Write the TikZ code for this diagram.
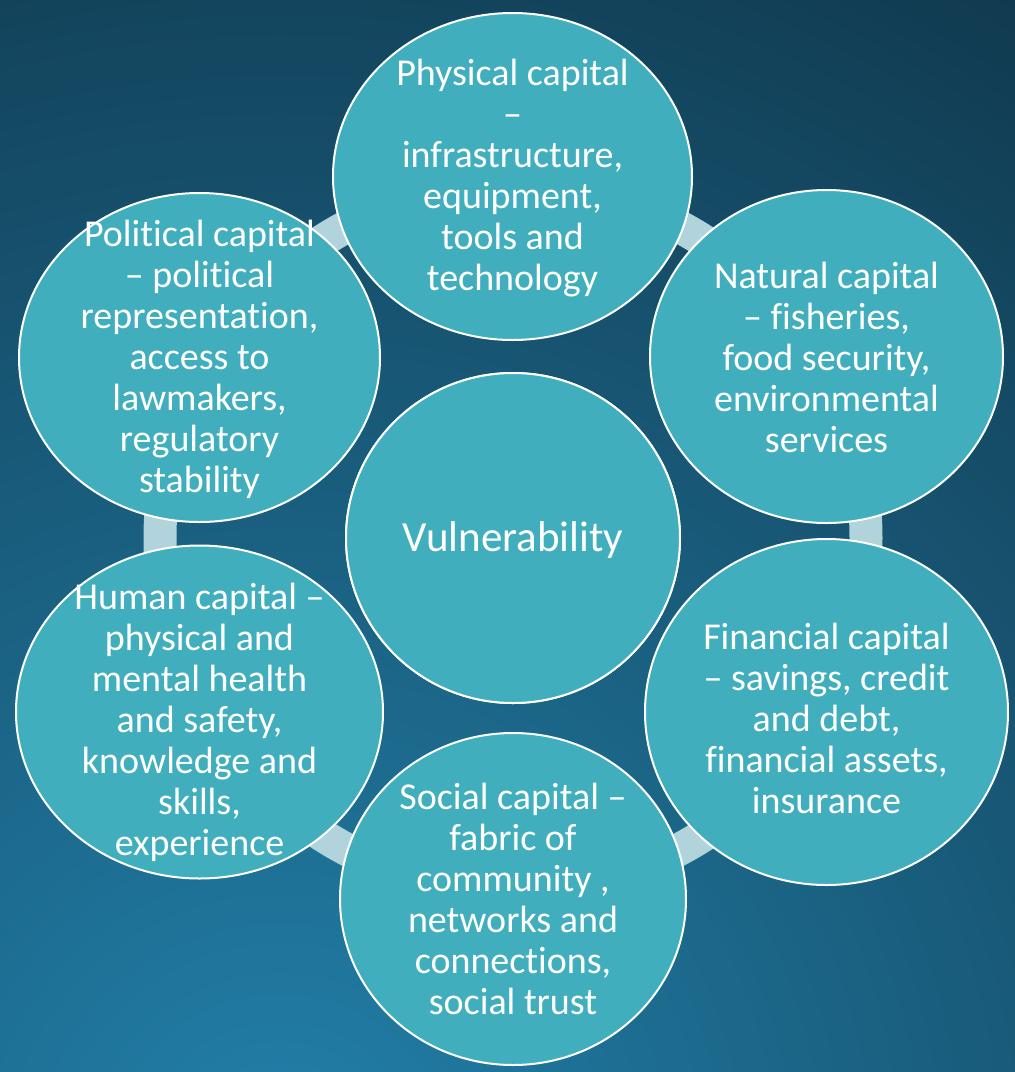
\documentclass[tikz,border=0pt]{standalone}
\usepackage{fontspec}
\setmainfont{Carlito}[Ligatures={NoCommon}]
\usetikzlibrary{shapes.geometric}
\definecolor{bgin}{HTML}{2280AA}
\definecolor{bgout}{HTML}{0F3448}
\definecolor{cfill}{HTML}{41AEBD}
\definecolor{ringc}{HTML}{B0D3DC}
\tikzset{
  capcircle/.style={ellipse, draw=white, line width=2pt, fill=cfill, inner sep=0pt},
  captext/.style={text=white, align=center, inner sep=0pt, font=\fontsize{38}{41}\selectfont},
  vultext/.style={text=white, align=center, inner sep=0pt, font=\fontsize{43}{48}\selectfont},
  ringline/.style={draw=ringc, line width=33pt}
}
\begin{document}
\begin{tikzpicture}[x=1pt,y=-1pt]
\useasboundingbox (0,0) rectangle (1015,1072);
\begin{scope}
  \clip (0,0) rectangle (1015,1072);
  \fill[bgout] (0,0) rectangle (1015,1072);
  \shade[inner color=bgin, outer color=bgout] (280,1170) circle[radius=1500];
\end{scope}
\node[capcircle, minimum width=334pt, minimum height=330pt] (vul) at (513,538) {};
\draw[ringline] (vul.center) circle[radius=353];
\node[capcircle, minimum width=334pt, minimum height=330pt] (vul2) at (vul.center) {};
\node[capcircle, minimum width=359pt, minimum height=327pt] (phys) at (512.5,176.5) {};
\node[capcircle, minimum width=353pt, minimum height=333pt] (nat) at (826.5,356.5) {};
\node[capcircle, minimum width=363pt, minimum height=346pt] (fin) at (826.5,712) {};
\node[capcircle, minimum width=346pt, minimum height=332pt] (soc) at (513,899) {};
\node[capcircle, minimum width=367pt, minimum height=333pt] (hum) at (199.5,712) {};
\node[capcircle, minimum width=361pt, minimum height=329pt] (pol) at (199.5,357.5) {};
\node[vultext] (vult) at ([yshift=-2pt]vul.center) {Vulnerability};
\node[captext] (physt) at ([yshift=-2pt]phys.center) {Physical capital\\–\\infrastructure,\\equipment,\\tools and\\technology};
\node[captext] (natt) at ([yshift=-1pt]nat.center) {Natural capital\\– fisheries,\\food security,\\environmental\\services};
\node[captext] (fint) at ([yshift=-6pt]fin.center) {Financial capital\\– savings, credit\\and debt,\\financial assets,\\insurance};
\node[captext] (soct) at ([yshift=0pt]soc.center) {Social capital –\\fabric of\\community ,\\networks and\\connections,\\social trust};
\node[captext] (humt) at ([yshift=-10pt]hum.center) {Human capital –\\physical and\\mental health\\and safety,\\knowledge and\\skills,\\experience};
\node[captext] (polt) at ([yshift=-2pt]pol.center) {Political capital\\– political\\representation,\\access to\\lawmakers,\\regulatory\\stability};
\end{tikzpicture}
\end{document}
